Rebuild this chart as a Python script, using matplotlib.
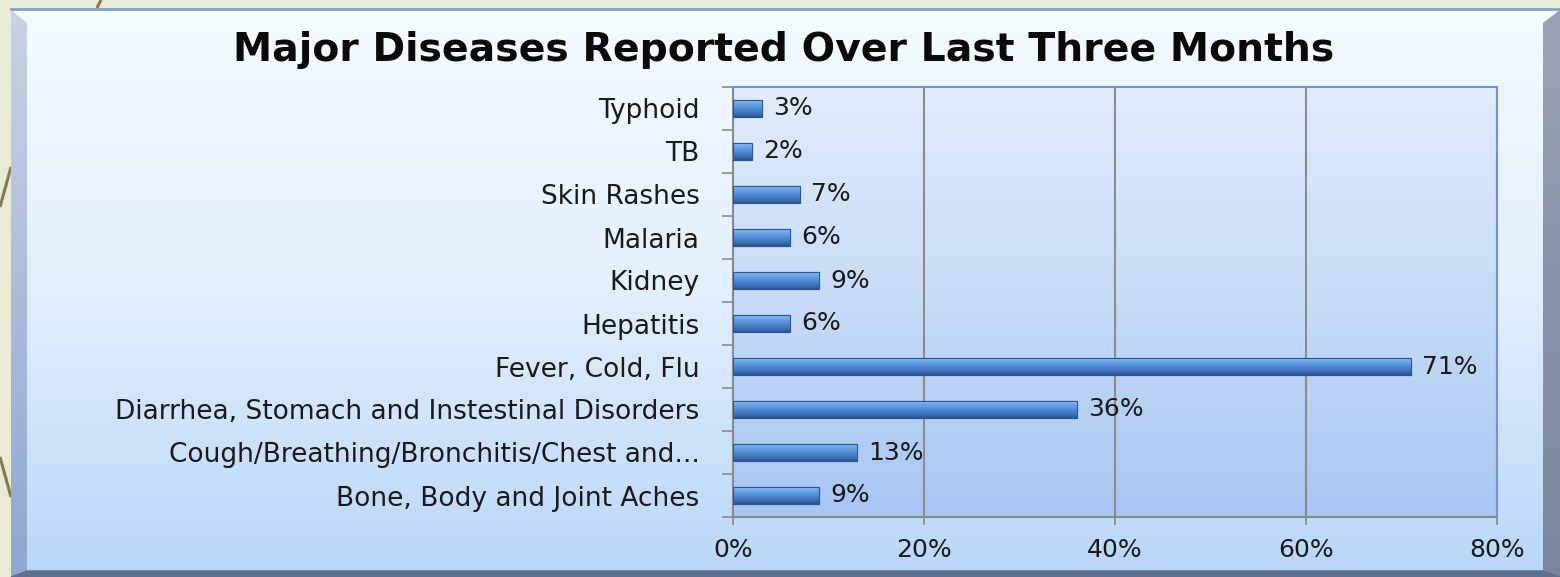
import numpy as np
import matplotlib
matplotlib.use("Agg")
import matplotlib.pyplot as plt
from matplotlib.colors import LinearSegmentedColormap
from matplotlib.patches import Rectangle, Polygon

# ---- data ----
categories = [
    "Typhoid",
    "TB",
    "Skin Rashes",
    "Malaria",
    "Kidney",
    "Hepatitis",
    "Fever, Cold, Flu",
    "Diarrhea, Stomach and Instestinal Disorders",
    "Cough/Breathing/Bronchitis/Chest and...",
    "Bone, Body and Joint Aches",
]
percent = [3, 2, 7, 6, 9, 6, 71, 36, 13, 9]
x_ticks = [0, 20, 40, 60, 80]
x_tick_labels = ["0%", "20%", "40%", "60%", "80%"]
title = "Major Diseases Reported Over Last Three Months"

W, H = 1560, 577
DPI = 100
plt.rcParams["font.family"] = ["DejaVu Sans"]

fig = plt.figure(figsize=(W / DPI, H / DPI), dpi=DPI)

# ---- decorative frame in pixel coordinates ----
bg = fig.add_axes([0, 0, 1, 1], zorder=0)
bg.set_xlim(0, W)
bg.set_ylim(H, 0)
bg.axis("off")
bg.add_patch(Rectangle((0, 0), W, H, color="#e9ecd5", zorder=0))
for (xa, ya, xb, yb) in [(0, 207, 11, 167), (0, 457, 11, 497), (97, 8, 101, 0)]:
    bg.plot([xa, xb], [ya, yb], color="#857a58", lw=2.2, zorder=1, solid_capstyle="butt")

face_cmap = LinearSegmentedColormap.from_list("face", ["#f3fbff", "#e2effc", "#b9d6f8"])
grad_v = np.linspace(0, 1, 256).reshape(-1, 1)
bg.imshow(grad_v, extent=(11, W, H, 8), aspect="auto", cmap=face_cmap, zorder=2,
          interpolation="bilinear")
bg.plot([11, W], [9, 9], color="#7f9fd2", lw=2, zorder=3)
# left bevel
lb_cmap = LinearSegmentedColormap.from_list("lb", ["#c9d2e3", "#8fa7d2"])
im = bg.imshow(grad_v, extent=(11, 27, H, 10), aspect="auto", cmap=lb_cmap, zorder=3,
               interpolation="bilinear")
lp = Polygon([(11, 10), (27, 23), (27, 571), (11, H)], closed=True, transform=bg.transData)
im.set_clip_path(lp)
# right bevel
rb_cmap = LinearSegmentedColormap.from_list("rb", ["#9aa3b5", "#7a859c"])
im = bg.imshow(grad_v, extent=(1543, W, H, 10), aspect="auto", cmap=rb_cmap, zorder=3,
               interpolation="bilinear")
rp = Polygon([(1543, 23), (W, 10), (W, H), (1543, 571)], closed=True, transform=bg.transData)
im.set_clip_path(rp)
# bottom edge
bg.add_patch(Polygon([(11, H), (27, 571), (1543, 571), (W, H)], closed=True,
                     color="#5e7090", zorder=4))

fig.text(784 / W, 1 - 50 / H, title, ha="center", va="center",
         fontsize=28.4, fontweight="bold", color="#0a0a0a")

# ---- chart ----
left, right, top, bottom = 733, 1497, 87, 517
ax = fig.add_axes([left / W, 1 - bottom / H, (right - left) / W, (bottom - top) / H], zorder=1)
ax.patch.set_visible(False)

y = np.arange(len(categories))
bar_h = 0.4
bars = ax.barh(y, percent, height=bar_h, color="#4f87d0", edgecolor="#2d5791",
               linewidth=0.8, zorder=3)

bar_cmap = LinearSegmentedColormap.from_list(
    "bar", [(0.0, "#b3d3f6"), (0.15, "#79b0ed"), (0.45, "#5894df"),
            (0.6, "#4a83cd"), (0.85, "#3a6cb0"), (1.0, "#29508a")])
for rect in bars:
    x0, y0 = rect.get_x(), rect.get_y()
    w, h = rect.get_width(), rect.get_height()
    im = ax.imshow(grad_v, extent=(x0, x0 + w, y0 + h, y0), aspect="auto",
                   cmap=bar_cmap, zorder=3.5, interpolation="bilinear")
    im.set_clip_path(rect)
    ax.add_patch(Rectangle((x0, y0), w, h, fill=False, edgecolor="#2d5791",
                           linewidth=0.8, zorder=4))

for yi, v in zip(y, percent):
    ax.annotate(f"{v}%", xy=(v, yi), xytext=(8, 0), textcoords="offset points",
                ha="left", va="center", fontsize=18, color="#1a1a1a", zorder=5)

# plot-area gradient
area_cmap = LinearSegmentedColormap.from_list("area", ["#e1ecfb", "#c6dbf7", "#a8c6f3"])
ax.imshow(grad_v, extent=(0, 80, len(categories) - 0.5, -0.5), aspect="auto",
          cmap=area_cmap, zorder=0, interpolation="bilinear")

ax.set_xlim(0, 80)
ax.set_ylim(len(categories) - 0.5, -0.5)
ax.set_xticks(x_ticks)
ax.set_xticklabels(x_tick_labels, fontsize=18, color="#1a1a1a")
ax.set_yticks(y)
ax.set_yticklabels(categories, fontsize=19, color="#1a1a1a")
ax.set_yticks(np.arange(len(categories) + 1) - 0.5, minor=True)
ax.tick_params(axis="y", which="major", length=0, pad=24)
ax.tick_params(axis="y", which="minor", length=8, width=1.2, color="#8a8a8a")
ax.tick_params(axis="x", which="major", length=6, width=1.2, color="#8a8a8a", pad=9)

ax.grid(axis="x", color="#8c8c8c", linewidth=1.5, zorder=1)
ax.set_axisbelow(True)
for side in ("left", "bottom"):
    ax.spines[side].set_color("#8a8a8a")
    ax.spines[side].set_linewidth(1.5)
for side in ("top", "right"):
    ax.spines[side].set_color("#7393c8")
    ax.spines[side].set_linewidth(1.5)

fig.savefig("out.png", dpi=DPI)
